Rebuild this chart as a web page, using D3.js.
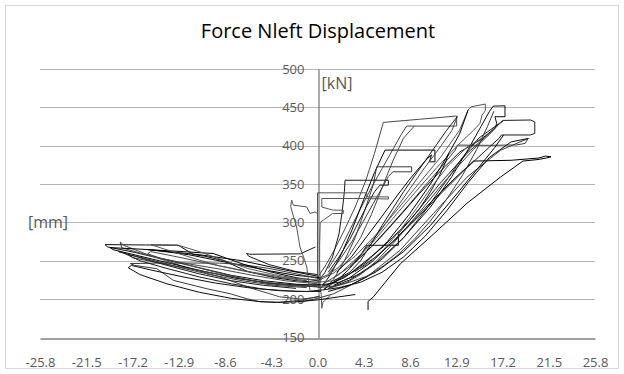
<!DOCTYPE html>
<html>
<head>
<meta charset="utf-8">
<script src="https://cdn.jsdelivr.net/npm/d3@7"></script>
<style>
  body { margin: 0; background: #fff; }
  svg { display: block; }
  text { font-family: 'Open Sans', 'Noto Sans', sans-serif; fill: #595959; }
</style>
</head>
<body>
<svg id="chart" width="624" height="374"></svg>
<script>
// tick labels
const xTicks = [-25.8, -21.5, -17.2, -12.9, -8.6, -4.3, 0.0, 4.3, 8.6, 12.9, 17.2, 21.5, 25.8];
const yTicks = [150, 200, 250, 300, 350, 400, 450, 500];

// right side cycles: [displacement mm, force kN]
const cycA = [[4.7,186],[4.7,197],[5.2,203],[6.3,222],[7.7,246],[10.8,285],[13.9,325],[17,359],[19.1,380],[20.5,382],[21.3,384],[21.7,385.5],[21.2,386.5],[20.6,384],[18,381],[14.5,380],[14.2,376],[12.8,358],[11,333],[9,304],[7,275],[5,248],[3,228],[1.5,218]];
const cycB = [[-1.6,196],[0,201],[1.5,207],[4.6,229],[7.7,264],[10.8,312],[13.9,359],[17,394],[19.6,409.5],[19.3,403],[18.5,401],[16,400.5],[13,400.8],[12.8,394],[11.5,372],[10,348],[8.5,323],[6.8,296],[5,268],[3.2,244],[1.5,228]];
const cycC = [[0.5,217],[1.5,222],[3,233],[6.1,268],[8.6,303],[11.4,351],[13.9,390],[15.5,410],[16.6,425],[17.3,433],[19.8,433.5],[20.2,431],[20.2,416],[19.8,414],[17.1,414],[16.9,410],[15.5,392],[13.5,366],[11.5,338],[9.5,309],[7.5,281],[5.5,256],[3.5,236]];
const cycD = [[0.2,225],[1.5,234],[3.5,256],[5.5,285],[7.5,318],[9.5,352],[11.5,386],[13.2,420],[14.0,446.5],[14.3,450.8],[15.6,454.3],[15.6,445.6],[15.3,440],[15.1,429],[14.5,420],[13,400],[11,370],[9,338],[7,305],[5,272],[3,243]];
const cycE = [[1.0,214],[3,225],[5.5,248],[8,280],[10.5,320],[12.5,360],[14,395],[15.2,425],[16,445],[16.35,451.7],[17.43,452],[17.43,437.8],[16.5,437.8],[16.66,429],[16.5,422.6],[15.1,407.3],[13.25,392],[11.5,368],[9.5,338],[7.5,306],[5.5,275],[3.5,248]];
const cycF = [[0,228],[0.8,245],[1.6,265],[2.5,290],[3.5,320],[4.5,355],[5.3,390],[6.12,430.4],[9.5,434.5],[12.94,438.7],[12.94,425.6],[8.29,425.6],[7.8,415],[7,395],[6,370],[5,345],[4,318],[3,290],[2,262],[1,240]];
const cycG = [[0.3,214],[1.2,232],[2.2,258],[3.2,290],[4.3,330],[5.3,365],[6.28,394.3],[10.92,394.3],[10.92,379],[10.4,379],[10.6,388],[10.2,383],[9.5,372],[8.5,355],[7.3,333],[6,308],[4.6,282],[3.2,256],[1.8,235]];
const cycH = [[0.6,212],[1.5,226],[2.5,250],[3.5,280],[4.5,320],[5.2,350],[5.5,372.5],[8.75,372.5],[8.75,366],[7.0,366],[6.6,360],[6,345],[5.2,325],[4.2,300],[3.2,275],[2,250],[1,232]];
const cycI = [[0,222],[0.7,235],[1.4,255],[2,285],[2.3,315],[2.5,340],[2.56,355],[6.59,355],[6.59,348.6],[5.8,348.6],[5.3,340],[4.6,322],[3.8,300],[3,278],[2,255],[1,235]];
const cycJ = [[0.1,216],[0,231],[0,338.6],[4.57,338.6],[4.6,333.3],[6.6,333.3],[6.6,330.5],[4.2,331.2],[0.4,331.2],[0.4,320],[1.45,316],[2.4,316],[2.4,311.6],[1.4,311.6],[0.25,300],[0.2,270],[0.2,240],[0.3,222]];
const cycK = [[0.6,213],[1.8,224],[3,240],[4,257],[4.57,270.2],[7.52,270.2],[7.52,285.5],[8.3,298],[9.5,318],[10.5,340],[11.3,360],[11.8,375],[12.2,390]];
const fanM = [[0.5,220],[2,232],[4,258],[6,292],[8,332],[10,372],[11.5,400],[12.5,420],[13,438]];
const fanN = [[1,210],[3,218],[5.5,236],[8,262],[10.5,296],[13,338],[15,372],[16.5,398],[17.3,414]];
const fanO = [[0,215],[1.5,217],[3,222],[4.6,230],[6,242],[7.5,258],[9,278],[10.5,302],[12,330],[13.5,362],[14.8,395],[15.8,425],[16.4,445]];
const fanP = [[0,218],[2,222],[4,233],[6,252],[8,280],[10,315],[12,355],[13.5,385],[15,410],[17.3,433]];
const fanQ = [[0,222],[1.5,224],[3,233],[4.6,245],[6.1,264],[7.7,290],[9.2,318],[10.7,348],[12.2,375],[13.9,398],[15.3,410]];
const fanR = [[0.5,212],[2,215],[4,222],[6,235],[8,255],[10,282],[12,315],[14,352],[16,385],[18,405],[19.6,409.5]];
const fanS = [[0,226],[1,232],[2,242],[3,258],[4,280],[5,310],[6,345],[7,380],[8,410],[9,425.6]];
const fanT = [[0.8,218],[2.5,228],[4.5,248],[6.5,275],[8.5,310],[10.5,350],[12,385],[13.2,415],[14,446.5]];
const unU = [[17.2,433],[16,415],[14.5,395],[13,372],[11.5,348],[10,322],[8.5,297],[7,272],[5.5,250],[4,232],[2.5,220],[1,214]];
const unV = [[13,438],[12,420],[11,400],[10,380],[9,360],[8,340],[7,318],[6,296],[5,272],[4,250],[3,235],[1.5,224]];
const spike = [[0.2,224],[0.35,205],[0.4,188],[0.5,196],[1.2,205]];

// left side branches
const lefA = [[0,222],[-2,224],[-4,228],[-6.5,236],[-8.8,250.6],[-10.5,256],[-11.5,258],[-12.94,270.2],[-16,270.6],[-19.76,271.1],[-19.5,268],[-17,261],[-14,251],[-11,241],[-8,231],[-5,224],[-2,219.5],[0,218]];
const lefB = [[0.3,216],[-2,217],[-4.5,220],[-7,227],[-10,237],[-13,248],[-16,258],[-18.2,267],[-18.35,274.6],[-18.0,270],[-15.6,257],[-12.8,244],[-9.1,229],[-6,213.6],[-3.5,203],[-1.5,200],[0.2,203]];
const lefC = [[0.2,228],[-2,231],[-4.5,237],[-7,244],[-9.5,251],[-12,258],[-15.7,264.6],[-19.3,267.2],[-19,264.5],[-16.5,256],[-13.5,246],[-10.5,236],[-7.5,227],[-4.5,221],[-1.5,218],[0.3,219]];
const lefD = [[0.4,226],[-2,233],[-4.5,240],[-7,245],[-9.1,247],[-12.8,247],[-15,247],[-17.4,246.3],[-17,244],[-14.95,239.7],[-13.4,224.5],[-10.3,213.6],[-8.1,207],[-6.6,200.6],[-5.3,196.5],[-3.5,196],[-1.5,198.5],[0.2,204]];
const lefE = [[0,232],[-2,236],[-4.5,245],[-6.4,256],[-6.6,259.5],[-6.3,258.5],[-1.6,259],[-0.2,268]];
const lefF = [[0,311.6],[-0.23,313.7],[-0.7,311.6],[-1.0,320.2],[-2.25,322.5],[-2.4,329],[-2.5,321],[-2.2,306],[-1.94,294],[-1.63,268],[-1.3,255],[-1.0,242],[-0.7,211.5]];
const lefG = [[3.5,206],[2,203],[0,199],[-2,196.5],[-3.8,195.7],[-5.5,197],[-8,201],[-11,209],[-14,220],[-16.5,232],[-17.6,241],[-17.3,244],[-15.5,238],[-12.5,229],[-9.5,221],[-6.5,215],[-3.5,211],[-1,210],[0.5,212]];
const lefH = [[0,220],[-3,224],[-6,231],[-9,239],[-12,246],[-14.5,253],[-15.8,259],[-15.5,262],[-13,255],[-10,246],[-7,237],[-4,229],[-1,224]];
const lefI = [[0,230],[-3,238],[-7,250],[-11,258],[-15.8,264.6],[-12.5,262],[-9.7,259.5],[-8.8,255],[-7,246],[-4.5,236],[-2,228],[0,224]];
const lefJ = [[0,216],[-3,219],[-6,224],[-9,232],[-12,240],[-15,248],[-17.2,254],[-17.5,258],[-16,253],[-13,242],[-10,232],[-7,224],[-4,218],[-1,215]];
const lefK = [[0.3,210],[-2,210],[-5,213],[-8,220],[-11,229],[-14,240],[-16.5,250],[-18,260],[-18.5,262],[-17,256],[-14,244],[-11,233],[-8,224],[-5,218],[-2,214]];
const lefL = [[0,225],[-3,228],[-6,235],[-9,243],[-11,251],[-13.5,262],[-15.5,271],[-13,270.5],[-11,262],[-9,252],[-6.5,240],[-4,232],[-1.5,226]];

const series = [cycA, cycB, cycC, cycD, cycE, cycF, cycG, cycH, cycI, cycJ, cycK,
  fanM, fanN, fanO, fanP, fanQ, fanR, fanS, fanT, unU, unV, spike,
  lefA, lefB, lefC, lefD, lefE, lefF, lefG, lefH, lefI, lefJ, lefK, lefL];
const shades = ['#000000', '#3a3a3a', '#1a1a1a', '#555555', '#0d0d0d', '#474747'];

const svg = d3.select('#chart');
const margin = { top: 69, right: 29, bottom: 36.5, left: 40 };
const width = 624 - margin.left - margin.right;
const height = 374 - margin.top - margin.bottom;

svg.append('rect')
  .attr('x', 5.5).attr('y', 5.5).attr('width', 613).attr('height', 363)
  .attr('fill', '#fff').attr('stroke', '#d9d9d9');

const x = d3.scaleLinear().domain([-25.8, 25.8]).range([margin.left, margin.left + width]);
const y = d3.scaleLinear().domain([150, 500]).range([margin.top + height, margin.top]);

// title
svg.append('text')
  .attr('x', 318).attr('y', 38)
  .attr('text-anchor', 'middle')
  .style('font-size', '20px')
  .style('fill', '#000')
  .text('Force Nleft Displacement');

// gridlines
svg.append('g')
  .selectAll('line')
  .data(yTicks.filter(t => t !== 150))
  .enter().append('line')
  .attr('x1', x(-25.8)).attr('x2', x(25.8))
  .attr('y1', d => Math.round(y(d)) + 0.5).attr('y2', d => Math.round(y(d)) + 0.5)
  .attr('stroke', '#b5b5b5');

// bottom axis
const xAxis = svg.append('g')
  .attr('transform', `translate(0,${Math.round(y(150)) + 0.5})`)
  .call(d3.axisBottom(x).tickValues(xTicks).tickSize(0).tickPadding(19).tickFormat(d => d.toFixed(1)));
xAxis.select('.domain').attr('stroke', '#404040');
xAxis.selectAll('text').style('font-size', '13px').style('fill', '#595959').attr('font-family', null);

// vertical axis at x = 0
const yAxis = svg.append('g')
  .attr('transform', `translate(${Math.round(x(0)) + 0.5},0)`)
  .call(d3.axisLeft(y).tickValues(yTicks).tickSize(0).tickPadding(14));
yAxis.select('.domain').attr('stroke', '#595959');
yAxis.selectAll('text').style('font-size', '13px').style('fill', '#595959').attr('font-family', null);

// data lines
const line = d3.line().x(d => x(d[0])).y(d => y(d[1]));
svg.append('g')
  .selectAll('path')
  .data(series)
  .enter().append('path')
  .attr('fill', 'none')
  .attr('stroke', (d, i) => shades[i % shades.length])
  .attr('stroke-width', 1)
  .attr('stroke-linejoin', 'round')
  .attr('d', line);

// axis titles
svg.append('text')
  .attr('x', x(0) + 4).attr('y', 83)
  .attr('dy', '0.35em')
  .style('font-size', '16px')
  .text('[kN]');
svg.append('text')
  .attr('x', 28).attr('y', y(300))
  .attr('dy', '0.35em')
  .style('font-size', '16px')
  .text('[mm]');
</script>
</body>
</html>
